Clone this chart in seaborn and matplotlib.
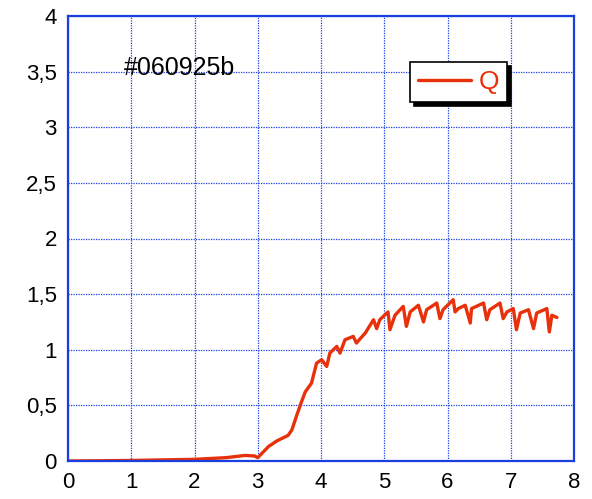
import matplotlib
matplotlib.use("Agg")
import matplotlib.pyplot as plt
import seaborn as sns
import pandas as pd
from matplotlib.ticker import FuncFormatter

time_s = [0.0, 0.5, 1.0, 1.5, 2.0, 2.5, 2.8, 2.95, 3.0,
          3.17, 3.3, 3.48, 3.54, 3.61, 3.69, 3.75, 3.85, 3.93, 4.01, 4.09,
          4.14, 4.25, 4.30, 4.38, 4.51, 4.56, 4.62, 4.70, 4.83, 4.88, 4.93,
          5.06, 5.09, 5.17, 5.30, 5.35, 5.41, 5.54, 5.62, 5.67, 5.83, 5.88,
          5.93, 6.09, 6.12, 6.17, 6.28, 6.36, 6.38, 6.57, 6.62, 6.67, 6.83,
          6.88, 6.94, 7.04, 7.09, 7.15, 7.28, 7.36, 7.41, 7.57, 7.61, 7.65, 7.73]
q_values = [0.0, 0.002, 0.005, 0.01, 0.015, 0.03, 0.05, 0.045, 0.03,
            0.13, 0.18, 0.23, 0.28, 0.40, 0.53, 0.62, 0.70, 0.88, 0.91, 0.85,
            0.97, 1.03, 0.97, 1.09, 1.12, 1.06, 1.10, 1.15, 1.27, 1.19, 1.27,
            1.34, 1.18, 1.31, 1.39, 1.21, 1.34, 1.40, 1.25, 1.36, 1.42, 1.28,
            1.36, 1.45, 1.34, 1.37, 1.40, 1.24, 1.37, 1.42, 1.27, 1.36, 1.42,
            1.28, 1.34, 1.37, 1.18, 1.33, 1.36, 1.19, 1.33, 1.37, 1.16, 1.31, 1.29]
series_name = "Q"
shot_label = "#060925b"
x_ticks = [0, 1, 2, 3, 4, 5, 6, 7, 8]
y_ticks = [0, 0.5, 1, 1.5, 2, 2.5, 3, 3.5, 4]

sns.set_style("white")
plt.rcParams['font.family'] = ['Liberation Sans', 'DejaVu Sans']

df = pd.DataFrame({"t": time_s, "Q": q_values, "series": series_name})

fig = plt.figure(figsize=(5.92, 4.99), dpi=100)
ax = fig.add_axes([68/592, 1-461/499, (574-68)/592, (461-16)/499])

blue = "#1a3fe0"
red = "#e8300a"

sns.lineplot(data=df, x="t", y="Q", hue="series", palette=[red],
             estimator=None, sort=False, linewidth=2.4, ax=ax)

ax.set_xlim(0, 8)
ax.set_ylim(0, 4)
ax.set_xticks(x_ticks)
ax.set_yticks(y_ticks)
fmt = FuncFormatter(lambda v, p: ("%g" % v).replace(".", ","))
ax.yaxis.set_major_formatter(fmt)
ax.xaxis.set_major_formatter(fmt)
ax.set_xlabel("")
ax.set_ylabel("")

ax.grid(True, color=blue, linestyle=(0, (1, 1)), linewidth=0.9)
for s in ax.spines.values():
    s.set_color(blue)
    s.set_linewidth(1.6)
ax.tick_params(axis="both", direction="in", length=7, width=1, color=blue,
               labelsize=16, labelcolor="black", pad=8)
ax.tick_params(axis="x", pad=8)

ax.text(1.77, 3.53, shot_label, fontsize=18, ha="center", va="center", color="black")

leg = ax.legend(loc="upper left", bbox_to_anchor=((410-68)/506, (461-62)/445),
                borderaxespad=0,
                frameon=True, fancybox=False,
                shadow={"color": "black", "alpha": 1, "ox": 3, "oy": -3},
                fontsize=19, handlelength=2.0, borderpad=0.3, handletextpad=0.3)
leg.get_frame().set_edgecolor("black")
leg.get_frame().set_linewidth(1.2)
for t in leg.get_texts():
    t.set_color(red)

fig.savefig("out.png", dpi=100)
